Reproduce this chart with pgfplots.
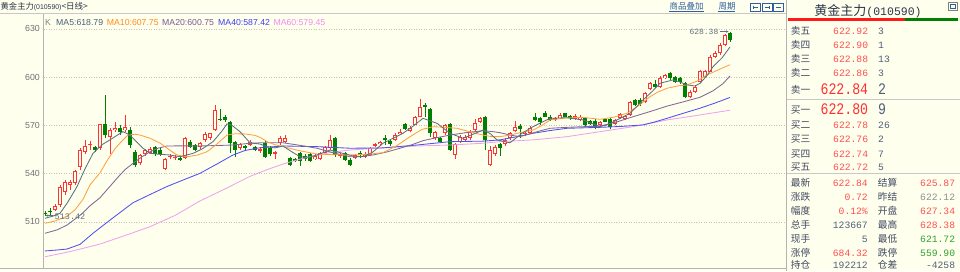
\documentclass[border=0pt]{standalone}
\usepackage{fontspec}
\setmainfont{Liberation Sans}
\newfontfamily\cjk{Noto Sans CJK SC}
\newfontfamily\mono{Liberation Mono}
\usepackage{pgfplots}
\usepackage{pgfplotstable}
\pgfplotsset{compat=1.18}
\usetikzlibrary{arrows.meta}
\definecolor{bg}{HTML}{FFFFEE}
\definecolor{upc}{HTML}{FF3333}
\definecolor{dnc}{HTML}{008000}
\definecolor{ma5}{HTML}{5C7080}
\definecolor{ma10}{HTML}{FFA040}
\definecolor{ma20}{HTML}{806898}
\definecolor{ma40}{HTML}{5050F0}
\definecolor{ma60}{HTML}{F0A0F0}
\definecolor{ma5t}{HTML}{4A6078}
\definecolor{ma10t}{HTML}{FF8C1A}
\definecolor{ma20t}{HTML}{7A5A96}
\definecolor{ma40t}{HTML}{4040F0}
\definecolor{ma60t}{HTML}{F08CF0}
\definecolor{lbl}{HTML}{404860}
\definecolor{pr}{HTML}{FF5050}
\definecolor{prb}{HTML}{FF3030}
\definecolor{vol}{HTML}{506078}
\definecolor{grn}{HTML}{30A030}
\definecolor{gry}{HTML}{909090}
\definecolor{gridc}{HTML}{C4C4BC}
\definecolor{linec}{HTML}{C8C8C8}
\definecolor{axisc}{HTML}{B4B4B4}
\definecolor{tickc}{HTML}{707070}
\definecolor{annc}{HTML}{607080}
\definecolor{lnk}{HTML}{2F5F9F}
\definecolor{hdr}{HTML}{2A3548}

\pgfplotstableread{
i o h l c
2 517.4 521.0 516.5 520.0
3 520.5 533.0 519.5 531.9
4 528.8 536.0 527.0 534.6
5 532.9 536.0 530.0 535.0
6 534.0 542.5 533.0 541.6
7 544.3 556.0 542.0 554.7
8 553.7 561.0 552.0 557.2
9 558.0 560.0 555.0 558.6
11 555.8 571.0 555.0 570.7
13 563.0 568.5 552.0 567.1
14 567.1 572.0 566.0 568.6
16 567.0 576.5 566.0 569.0
19 546.4 552.5 545.5 551.6
20 552.0 555.5 551.0 554.5
21 553.0 556.5 552.0 555.3
24 542.9 550.0 542.0 549.1
25 550.4 552.0 549.0 551.0
26 550.0 551.5 548.5 550.6
28 549.5 563.0 549.0 562.0
31 556.4 560.0 555.5 559.2
32 561.0 566.0 560.0 564.5
33 562.0 565.5 561.0 565.0
34 567.1 582.7 566.5 579.6
39 555.8 559.0 555.0 558.2
41 558.0 561.0 557.0 560.0
43 554.5 556.5 553.0 555.5
46 552.3 554.0 549.0 553.4
47 558.9 563.5 558.0 562.4
48 560.0 564.0 559.0 562.4
54 549.0 552.0 548.5 551.0
55 549.1 553.5 548.5 552.6
56 552.6 557.5 552.0 556.8
57 555.8 564.0 555.0 561.0
59 551.0 553.0 550.0 552.0
62 550.0 552.5 549.0 551.5
64 550.5 553.5 550.0 552.5
65 551.6 556.5 551.0 555.8
66 557.2 559.0 556.5 558.2
67 558.4 560.5 557.5 559.9
70 561.0 565.0 560.0 564.0
71 564.5 567.5 564.0 566.1
73 566.5 569.5 566.0 568.6
74 570.3 576.0 570.0 575.4
75 575.4 586.4 575.0 581.7
78 562.0 566.5 561.0 565.7
80 565.1 571.0 564.0 570.3
82 551.6 559.0 549.0 558.2
83 559.9 564.0 559.0 563.0
84 561.0 564.0 560.0 563.0
85 562.0 567.0 561.0 566.1
86 567.1 574.0 566.5 571.3
87 572.3 575.5 571.5 574.4
89 545.4 557.0 544.5 554.7
90 552.0 558.0 551.0 556.8
92 558.2 562.0 557.5 561.0
93 562.0 566.0 561.0 565.1
94 566.5 572.5 566.0 569.2
96 564.5 566.5 563.5 565.5
97 565.1 569.5 564.5 568.6
102 573.5 575.5 573.0 574.5
103 574.4 577.5 574.0 576.5
106 574.0 577.0 573.5 576.0
107 573.5 576.5 573.0 575.5
111 570.3 573.0 569.5 572.3
114 571.0 574.0 570.5 573.5
115 574.8 577.5 574.0 576.9
116 574.0 576.5 573.5 576.0
117 576.5 585.0 576.0 584.4
120 584.8 591.0 584.0 590.0
121 592.7 597.0 592.0 596.2
123 594.1 600.5 593.5 599.3
124 599.3 602.0 599.0 601.4
129 587.9 592.0 587.0 591.0
130 591.0 595.0 590.0 594.1
131 597.2 604.5 596.5 603.9
132 600.3 604.5 600.0 603.9
133 603.4 613.5 603.0 612.8
134 612.8 616.0 612.0 614.9
135 614.9 621.0 614.0 620.0
136 620.0 627.0 619.5 626.3
}\uptab

\pgfplotstableread{
i o h l c
0 515.8 516.5 513.42 515.0
1 517.0 518.5 514.5 516.0
10 556.8 557.5 553.5 554.7
12 570.7 588.9 562.0 564.0
15 568.6 570.0 564.0 566.0
17 567.1 569.0 556.0 557.8
18 553.6 555.0 544.0 545.4
22 556.5 557.5 551.0 552.0
23 555.0 556.0 551.0 552.0
27 550.0 551.0 548.0 548.5
29 559.9 561.0 556.0 556.8
30 557.8 558.5 554.0 554.7
35 574.0 580.0 572.5 573.4
36 575.4 576.5 572.0 573.4
37 572.3 573.0 553.0 558.9
38 559.9 560.5 550.5 554.7
40 557.0 558.0 555.0 556.0
42 556.8 557.5 554.0 554.7
44 558.9 561.0 550.0 550.5
45 556.0 557.0 551.0 552.0
49 549.5 550.5 545.0 545.4
50 549.0 550.0 547.0 548.0
51 552.7 553.5 545.0 547.9
52 551.0 552.0 548.0 549.0
53 552.0 553.0 547.0 548.0
58 562.0 563.0 550.5 551.6
60 552.6 553.5 548.0 548.5
61 548.5 549.5 544.5 545.4
63 553.0 554.0 550.0 551.5
68 561.8 564.0 558.0 561.3
69 560.3 561.5 557.0 558.2
72 570.7 571.5 567.0 567.8
76 582.5 584.0 575.0 581.9
77 580.2 581.0 563.0 565.1
79 562.0 563.0 559.0 560.0
81 570.7 571.5 554.0 554.7
88 575.4 576.0 554.7 561.0
91 558.2 559.0 551.0 555.8
95 569.8 571.0 562.0 568.0
98 575.4 578.0 572.5 573.4
99 574.4 575.0 570.0 572.3
100 577.5 579.0 575.0 575.4
101 575.4 576.5 573.0 573.4
104 577.5 578.0 575.0 575.4
105 576.0 576.5 573.5 574.5
108 574.4 575.0 569.5 570.3
109 573.0 573.5 570.0 571.0
110 573.0 574.0 568.0 568.7
112 573.8 574.5 572.0 572.3
113 573.8 574.5 567.5 569.2
118 585.8 586.5 582.0 582.7
119 586.0 587.0 582.0 583.5
122 596.0 598.0 593.5 594.0
125 602.4 603.0 598.5 599.3
126 600.3 601.0 596.5 597.2
127 599.5 600.0 596.0 597.0
128 596.2 597.0 587.0 587.9
137 627.34 628.38 621.72 622.84
}\dntab

\pgfplotstableread{
x y
0 512.2
1.5 513.5
3 515.3
4.5 522
6.4 531.9
8 543
9.6 552.6
11.4 558
13 561
14.5 564
15.6 566.1
17 564
18.4 559.5
19.6 555.8
21 552.6
23 552
25 551.6
27 550.5
29.6 552.6
31.5 555.5
33.6 559.9
35.4 566.5
36.4 571
37.4 570
39 566.1
41 559.2
43 558.4
44.4 556.8
46 556
47.6 557.2
49.4 553.5
51 550.5
52.8 550.2
54.4 551.6
57 554.7
59.6 552.6
61.6 551
63.6 550.5
65.6 553.5
67.6 558.9
69.6 562
71.6 565.1
73.6 569.5
75.6 574.4
78.4 571.3
81 565.1
83.6 562
85.6 564.5
87.6 567.1
89 565
90.4 561
93 559.2
95.4 565.1
97.6 569.2
99.4 572
101 574.4
104.4 574.8
107.6 573.4
111 569.2
112.6 570.5
114.4 573.4
117 577.5
119.6 585.8
121.4 591
123 596.2
125.6 598.3
127 597
128.4 595.2
130 594.5
131 596.2
132.4 601
133.6 606.5
135.4 612
137 618.79
}\maA

\pgfplotstableread{
x y
0 509.1
2 510.5
4.4 513.5
6 517.5
7.6 524
9 533
11 540.5
12.4 548
14 555.5
15 559
16.6 564
18 564.5
19 564
21 562
23 559
25 554.5
26.4 551.6
28.4 550.5
30.4 551.5
32.4 553.6
34.4 558.5
36.4 564
38 564.8
40 564.7
42 563.8
43 562.6
44.4 559.9
46 558
47.6 556.8
51 554.2
54.4 552.2
57.6 551.8
61 551.6
64.4 552
67.6 553
70.4 557.5
73 563
75.4 567.5
77.6 569.2
80 568.8
82.4 568.2
85 566
87.6 564
89.4 563
91 563
93 564
95 565.5
97.6 567.1
99.4 570
101 573.4
104 574.6
107.6 575
111 573.8
113.6 575
116.4 577.5
118.6 582
121 587.9
122.6 590.8
124.4 593.1
126.6 594.6
128.4 595.2
130.4 597.5
132.4 601.4
134.6 604.5
137 607.75
}\maB

\pgfplotstableread{
x y
0 502.9
2.4 505
4.4 508
7.4 515
9 520
11 525
12.4 530
14.4 537.1
16 542.5
17.6 546.4
19.4 550.5
21 553.6
22.6 555.8
24.4 557.2
28 557.3
31 557.2
34.4 557.5
37.6 557.8
40.4 558.7
43 559.2
47.6 559.2
51 557.6
54.4 555.8
57.6 553
61 550.5
63 550.5
65.6 551.6
68.4 553.5
71 555.8
73.4 558
75.6 560.5
78.4 562.4
81 564
84.4 565.6
87.6 566.7
89.4 566.2
91 565.5
93 564
95 563
97 564.8
99 566.6
101 568.2
104.4 568.8
107.6 569.2
111 569.6
114.4 572.2
117.6 575.4
121 578.6
124.4 582
127.6 584.6
131 587.5
133.6 591.5
135.6 596
137 600.75
}\maC

\pgfplotstableread{
x y
0 491.9
2.4 492.5
4.4 493.1
7 496
9.6 502.9
13 511.1
17.6 521.9
21 527
24.4 532
27.6 536
31 540.2
34.4 546
37.6 551.6
40 554.4
43 556.1
47.6 557.2
54.4 556.8
61 555.8
67.6 556
74.4 557.8
81 559.9
87.6 560.2
91 561
94.4 563
97.6 565.1
101 566.8
104.4 568.2
111 568.8
115.4 569.4
119.6 570.3
122 572.2
124.4 574.4
127.6 577.5
131 580.7
134 583.9
137 587.42
}\maD

\pgfplotstableread{
x y
0 488.3
5 491.5
11 496.2
16 501.5
21 507
26 514
31 523
36 530.5
41 538.3
44 542
47.6 546
51 549
54.4 551.6
57.6 553.4
61 554.7
67.6 556.1
74.4 557.2
81 557.8
87.6 558.9
91 559.9
97.6 561
104.4 563
111 566.1
117.6 569.2
124.4 573.4
131 576.5
137 579.45
}\maE

\newcommand{\LB}[3]{\node[anchor=base west,inner sep=0pt,text=lbl,font=\cjk\fontsize{9.7}{10}\selectfont] at (#1pt,-#2pt) {#3};}
\newcommand{\NR}[4]{\node[anchor=base east,inner sep=0pt,text=#4,font=\mono\fontsize{9.7}{10}\selectfont] at (#1pt,-#2pt) {#3};}
\newcommand{\NL}[4]{\node[anchor=base west,inner sep=0pt,text=#4,font=\mono\fontsize{9.7}{10}\selectfont] at (#1pt,-#2pt) {#3};}
\newcommand{\BR}[4]{\node[anchor=base east,inner sep=0pt,text=#4,font=\mono\fontsize{13.2}{14}\selectfont] at (#1pt,-#2pt) {\scalebox{1}[1.22]{#3}};}
\newcommand{\BL}[4]{\node[anchor=base west,inner sep=0pt,text=#4,font=\mono\fontsize{13.2}{14}\selectfont] at (#1pt,-#2pt) {\scalebox{1}[1.22]{#3}};}

\begin{document}
\begin{tikzpicture}
\useasboundingbox (0,0) rectangle (960pt,-271pt);
\fill[bg] (0,0) rectangle (960pt,-271pt);

\begin{axis}[
  at={(43.5pt,-268pt)}, anchor=south west,
  scale only axis, width=742.5pt, height=254pt,
  xmin=-0.3, xmax=148.2, ymin=481.3, ymax=639.3,
  axis line style={draw=none},
  xtick=\empty,
  ytick={510,540,570,600,630},
  ymajorgrids,
  grid style={draw=gridc, line width=0.6pt, dash pattern=on 1pt off 1.5pt},
  major tick length=0pt,
  yticklabel style={font=\fontsize{8.8}{9}\selectfont, text=tickc, anchor=east, inner sep=0pt, xshift=-3.5pt},
  /pgf/number format/assume math mode=true,
  clip=false,
]
% wicks
\addplot[draw=none, mark=none, forget plot,
  error bars/.cd, y dir=both, y explicit, error mark=none,
  error bar style={draw=dnc, line width=0.8pt}]
  table[x=i, y expr={(\thisrow{h}+\thisrow{l})/2}, y error expr={(\thisrow{h}-\thisrow{l})/2}] {\dntab};
\addplot[draw=none, mark=none, forget plot,
  error bars/.cd, y dir=both, y explicit, error mark=none,
  error bar style={draw=upc, line width=0.8pt}]
  table[x=i, y expr={(\thisrow{h}+\thisrow{l})/2}, y error expr={(\thisrow{h}-\thisrow{l})/2}] {\uptab};
% bodies
\addplot[draw=none, mark=none, forget plot,
  error bars/.cd, y dir=both, y explicit, error mark=none,
  error bar style={draw=dnc, line width=3.6pt}]
  table[x=i, y expr={(\thisrow{o}+\thisrow{c})/2}, y error expr={max(abs(\thisrow{c}-\thisrow{o})/2,0.35)}] {\dntab};
\addplot[draw=none, mark=none, forget plot,
  error bars/.cd, y dir=both, y explicit, error mark=none,
  error bar style={draw=upc, line width=3.6pt}]
  table[x=i, y expr={(\thisrow{o}+\thisrow{c})/2}, y error expr={max(abs(\thisrow{c}-\thisrow{o})/2,0.35)}] {\uptab};
\addplot[draw=none, mark=none, forget plot,
  error bars/.cd, y dir=both, y explicit, error mark=none,
  error bar style={draw=bg, line width=1.8pt}]
  table[x=i, y expr={(\thisrow{o}+\thisrow{c})/2}, y error expr={max((\thisrow{c}-\thisrow{o})/2-0.6,0)}] {\uptab};
% moving averages
\addplot[ma60, line width=0.85pt, mark=none] table[x=x,y=y] {\maE};
\addplot[ma40, line width=0.85pt, mark=none] table[x=x,y=y] {\maD};
\addplot[ma20, line width=0.85pt, mark=none] table[x=x,y=y] {\maC};
\addplot[ma10, line width=0.85pt, mark=none] table[x=x,y=y] {\maB};
\addplot[ma5, line width=0.85pt, mark=none] table[x=x,y=y] {\maA};
% high / low notes
\draw[annc, line width=0.6pt, -{Stealth[length=2.5pt,width=2.5pt]}] (axis cs:135,628.4) -- (axis cs:136.7,628.4);
\node[anchor=base east, inner sep=0pt, text=annc, font=\mono\fontsize{8}{8}\selectfont] at (axis cs:134.7,626.3) {628.38};
\draw[annc, line width=0.6pt, -{Stealth[length=2.5pt,width=2.5pt]}] (axis cs:1.6,513.9) -- (axis cs:0.15,513.9);
\node[anchor=base west, inner sep=0pt, text=annc, font=\mono\fontsize{8.5}{8.5}\selectfont] at (axis cs:1.9,511.4) {513.42};
\end{axis}

% frame lines
\draw[linec, line width=0.8pt] (0,-13.5pt) -- (786.7pt,-13.5pt);
\draw[axisc, line width=0.8pt] (43.5pt,-13.5pt) -- (43.5pt,-268.3pt);
\draw[axisc, line width=0.8pt] (0,-268.3pt) -- (786.7pt,-268.3pt);
\draw[axisc, line width=0.8pt] (786.7pt,0) -- (786.7pt,-271pt);

% chart header
\node[anchor=base west, inner sep=0pt, text=hdr] at (0.5pt,-9.8pt) {{\cjk\fontsize{8.3}{9}\selectfont 黄金主力}{\fontsize{6.9}{7}\selectfont(010590)}{\cjk\fontsize{8.5}{9}\selectfont<日线>}};
\node[anchor=base west, inner sep=0pt, text=lnk, font=\cjk\fontsize{8.5}{9}\selectfont] at (669.3pt,-9.5pt) {商品叠加};
\draw[lnk, line width=0.6pt] (669.3pt,-11.2pt) -- (703.5pt,-11.2pt);
\node[anchor=base west, inner sep=0pt, text=lnk, font=\cjk\fontsize{8.5}{9}\selectfont] at (718.3pt,-9.5pt) {周期};
\draw[lnk, line width=0.6pt] (718.3pt,-11.2pt) -- (735.3pt,-11.2pt);
\foreach \bx in {750.5,762,773.5}{
  \draw[lnk, line width=0.6pt] (\bx pt,-3pt) rectangle ++(10pt,-8.5pt);
}
\draw[lnk, line width=0.6pt] (753pt,-7.2pt) -- (758pt,-7.2pt);
\draw[lnk, line width=0.6pt] (753pt,-5.5pt) -- (753pt,-9pt);
\draw[lnk, line width=0.6pt] (764.5pt,-7.2pt) -- (769.5pt,-7.2pt);
\draw[lnk, line width=0.6pt] (769.5pt,-5.5pt) -- (769.5pt,-9pt);
\draw[lnk, line width=0.6pt] (776pt,-7.2pt) -- (781pt,-7.2pt);

\node[anchor=base west, inner sep=0pt, text=gray, font=\fontsize{8.7}{9}\selectfont] at (45pt,-25pt) {K};
\node[anchor=base west, inner sep=0pt, text=ma5t, font=\fontsize{8.7}{9}\selectfont] at (56pt,-25pt) {MA5:618.79};
\node[anchor=base west, inner sep=0pt, text=ma10t, font=\fontsize{8.7}{9}\selectfont] at (106.7pt,-25pt) {MA10:607.75};
\node[anchor=base west, inner sep=0pt, text=ma20t, font=\fontsize{8.7}{9}\selectfont] at (162pt,-25pt) {MA20:600.75};
\node[anchor=base west, inner sep=0pt, text=ma40t, font=\fontsize{8.7}{9}\selectfont] at (218pt,-25pt) {MA40:587.42};
\node[anchor=base west, inner sep=0pt, text=ma60t, font=\fontsize{8.7}{9}\selectfont] at (273.3pt,-25pt) {MA60:579.45};

% right panel
\node[anchor=base, inner sep=0pt, text=hdr] at (868pt,-15pt) {{\cjk\fontsize{13}{13}\selectfont 黄金主力}{\mono\fontsize{11.5}{12}\selectfont(010590)}};
\draw[gray, line width=0.6pt] (947.8pt,-2pt) rectangle (957.3pt,-10.5pt);
\draw[lnk, line width=0.6pt] (949.8pt,-4pt) rectangle (955.3pt,-8.5pt);
\fill[red!90!white] (788.3pt,-18.4pt) rectangle (905pt,-21pt);
\fill[dnc] (905pt,-18.4pt) rectangle (958.3pt,-21pt);

\LB{790.7}{34}{卖五}   \NR{868.3}{34}{622.92}{pr} \NL{878}{34}{3}{vol}
\LB{790.7}{48}{卖四}   \NR{868.3}{48}{622.90}{pr} \NL{878}{48}{1}{vol}
\LB{790.7}{62}{卖三}   \NR{868.3}{62}{622.88}{pr} \NL{878}{62}{13}{vol}
\LB{790.7}{76}{卖二}   \NR{868.3}{76}{622.86}{pr} \NL{878}{76}{3}{vol}
\LB{790.7}{93}{卖一}   \BR{868.3}{94.3}{622.84}{prb} \BL{878}{94.3}{2}{vol}
\draw[linec, line width=0.8pt] (787pt,-99pt) -- (960pt,-99pt);
\LB{790.7}{113}{买一}  \BR{868.3}{114.3}{622.80}{prb} \BL{878}{114.3}{9}{vol}
\LB{790.7}{128.3}{买二} \NR{868.3}{128.3}{622.78}{pr} \NL{878}{128.3}{26}{vol}
\LB{790.7}{142.7}{买三} \NR{868.3}{142.7}{622.76}{pr} \NL{878}{142.7}{2}{vol}
\LB{790.7}{157}{买四}  \NR{868.3}{157}{622.74}{pr} \NL{878}{157}{7}{vol}
\LB{790.7}{170}{买五}  \NR{868.3}{170}{622.72}{pr} \NL{878}{170}{5}{vol}
\draw[linec, line width=0.8pt] (787pt,-173.5pt) -- (960pt,-173.5pt);

\LB{790.7}{186}{最新}   \NR{868}{186}{622.84}{pr}   \LB{877.7}{186}{结算}   \NR{955.3}{186}{625.87}{pr}
\LB{790.7}{200.2}{涨跌} \NR{868}{200.2}{0.72}{pr}   \LB{877.7}{200.2}{昨结} \NR{955.3}{200.2}{622.12}{gry}
\LB{790.7}{214.4}{幅度} \NR{868}{214.4}{0.12\%}{pr} \LB{877.7}{214.4}{开盘} \NR{955.3}{214.4}{627.34}{pr}
\LB{790.7}{228.6}{总手}   \NR{868}{228.6}{123667}{vol} \LB{877.7}{228.6}{最高}   \NR{955.3}{228.6}{628.38}{pr}
\LB{790.7}{242.8}{现手} \NR{868}{242.8}{5}{vol}     \LB{877.7}{242.8}{最低} \NR{955.3}{242.8}{621.72}{grn}
\LB{790.7}{256}{涨停} \NR{868}{256}{684.32}{pr} \LB{877.7}{256}{跌停} \NR{955.3}{256}{559.90}{grn}
\LB{790.7}{268.8}{持仓} \NR{868}{268.8}{192212}{vol} \LB{877.7}{268.8}{仓差} \NR{955.3}{268.8}{-4258}{vol}
\end{tikzpicture}
\end{document}
